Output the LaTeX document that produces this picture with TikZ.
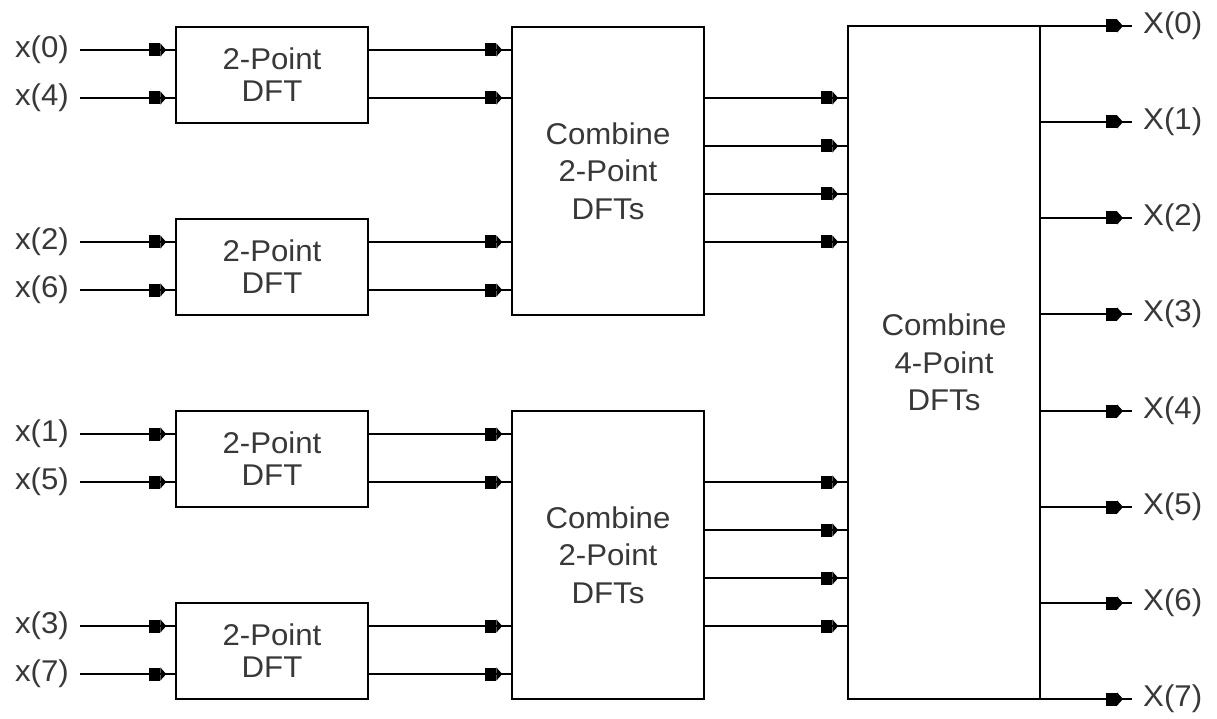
\documentclass[tikz,border=0pt]{standalone}
\usepackage{fontspec}
\setmainfont[FakeStretch=1.04]{Liberation Sans}
\usetikzlibrary{arrows.meta,decorations.markings}
\begin{document}
\begin{tikzpicture}[x=1pt,y=-1pt,
  box/.style={draw, line width=1.5pt, inner sep=0pt, align=center, text=black!78},
  dftbox/.style={box, minimum width=192pt, minimum height=96pt, font=\fontsize{30}{32}\selectfont},
  cmbbox/.style={box, minimum width=192pt, minimum height=288pt, font=\fontsize{30}{37.5}\selectfont},
  lbl/.style={inner xsep=11pt, inner ysep=2pt, text=black!78, font=\fontsize{30}{35}\selectfont},
  conn/.style={line width=1.5pt, postaction={decorate},
    decoration={markings, mark=at position -9pt with {\arrow{Rectangle[length=11pt,width=13pt]Triangle[length=6pt,width=13pt]}}}}
]
\useasboundingbox (0,0) rectangle (1217,719);

% input labels
\node[lbl, anchor=east] (i0) at (80,50) {x(0)};
\node[lbl, anchor=east] (i4) at (80,98) {x(4)};
\node[lbl, anchor=east] (i2) at (80,242) {x(2)};
\node[lbl, anchor=east] (i6) at (80,290) {x(6)};
\node[lbl, anchor=east] (i1) at (80,434) {x(1)};
\node[lbl, anchor=east] (i5) at (80,482) {x(5)};
\node[lbl, anchor=east] (i3) at (80,626) {x(3)};
\node[lbl, anchor=east] (i7) at (80,674) {x(7)};

% 2-point DFT boxes
\node[dftbox] (d1) at (272,75) {2-Point\\DFT};
\node[dftbox] (d2) at (272,267) {2-Point\\DFT};
\node[dftbox] (d3) at (272,459) {2-Point\\DFT};
\node[dftbox] (d4) at (272,651) {2-Point\\DFT};

% combine boxes
\node[cmbbox] (c1) at (608,171) {Combine\\2-Point\\DFTs};
\node[cmbbox] (c2) at (608,555) {Combine\\2-Point\\DFTs};

% big box
\node[box, minimum width=192pt, minimum height=673pt, font=\fontsize{30}{37.5}\selectfont] (B) at (944,362.5) {Combine\\4-Point\\DFTs};

% inputs to DFTs
\draw[conn] (i0.east) -- (i0.east -| d1.west);
\draw[conn] (i4.east) -- (i4.east -| d1.west);
\draw[conn] (i2.east) -- (i2.east -| d2.west);
\draw[conn] (i6.east) -- (i6.east -| d2.west);
\draw[conn] (i1.east) -- (i1.east -| d3.west);
\draw[conn] (i5.east) -- (i5.east -| d3.west);
\draw[conn] (i3.east) -- (i3.east -| d4.west);
\draw[conn] (i7.east) -- (i7.east -| d4.west);

% DFTs to combine
\draw[conn] (d1.east |- i0.east) -- (c1.west |- i0.east);
\draw[conn] (d1.east |- i4.east) -- (c1.west |- i4.east);
\draw[conn] (d2.east |- i2.east) -- (c1.west |- i2.east);
\draw[conn] (d2.east |- i6.east) -- (c1.west |- i6.east);
\draw[conn] (d3.east |- i1.east) -- (c2.west |- i1.east);
\draw[conn] (d3.east |- i5.east) -- (c2.west |- i5.east);
\draw[conn] (d4.east |- i3.east) -- (c2.west |- i3.east);
\draw[conn] (d4.east |- i7.east) -- (c2.west |- i7.east);

% combine to big box
\coordinate (m1) at (0,98);
\coordinate (m2) at (0,146);
\coordinate (m3) at (0,194);
\coordinate (m4) at (0,242);
\coordinate (m5) at (0,482);
\coordinate (m6) at (0,530);
\coordinate (m7) at (0,578);
\coordinate (m8) at (0,626);
\foreach \m in {m1,m2,m3,m4} \draw[conn] (c1.east |- \m) -- (B.west |- \m);
\foreach \m in {m5,m6,m7,m8} \draw[conn] (c2.east |- \m) -- (B.west |- \m);

% outputs
\node[lbl, anchor=west] (o0) at (1132,26) {X(0)};
\node[lbl, anchor=west] (o1) at (1132,122) {X(1)};
\node[lbl, anchor=west] (o2) at (1132,218) {X(2)};
\node[lbl, anchor=west] (o3) at (1132,314) {X(3)};
\node[lbl, anchor=west] (o4) at (1132,411) {X(4)};
\node[lbl, anchor=west] (o5) at (1132,507) {X(5)};
\node[lbl, anchor=west] (o6) at (1132,603) {X(6)};
\node[lbl, anchor=west] (o7) at (1132,699) {X(7)};
\foreach \o in {o0,o1,o2,o3,o4,o5,o6,o7} \draw[conn] (B.east |- \o.west) -- (\o.west);
\end{tikzpicture}
\end{document}
